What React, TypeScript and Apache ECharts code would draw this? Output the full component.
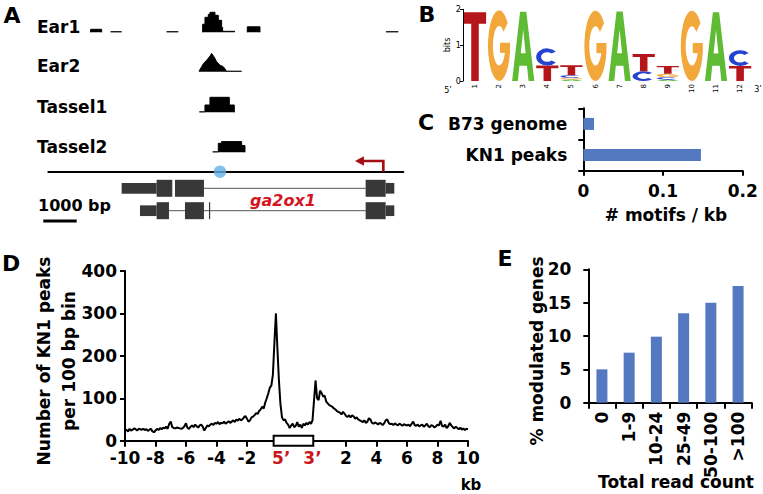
import React, { useEffect, useRef } from "react";
import * as echarts from "echarts";

const FONT = "'DejaVu Sans', 'Liberation Sans', Arial, sans-serif";
const BAR_BLUE = "#5479c1";

// ---------------- Panel A : ChIP-seq tracks at the ga2ox1 locus (kb) ----------------
const trackNames = ["Ear1", "Ear2", "Tassel1", "Tassel2"];
const locusLengthKb = 10.65;
const ear1Coverage = [
  [1.27, 0], [1.27, 3], [1.6, 3], [1.6, 0], [1.7, null],
  [1.87, 0.6], [2.2, 0.6], [2.3, null],
  [3.55, 0.6], [3.9, 0.6], [4.0, null],
  [4.63, 0], [4.63, 8], [4.7, 8], [4.7, 15], [4.8, 15], [4.8, 18], [4.85, 18], [4.85, 20], [5.0, 20],
  [5.0, 17], [5.1, 17], [5.1, 12], [5.2, 12], [5.2, 5], [5.23, 5], [5.23, 1], [5.6, 1], [5.7, null],
  [5.97, 0], [5.97, 5.5], [6.35, 5.5], [6.35, 0], [6.5, null],
  [10.13, 0.6], [10.5, 0.6],
];
const ear2Coverage = [
  [4.53, 0], [4.53, 1], [4.6, 5], [4.65, 8], [4.75, 11.5], [4.85, 15.5], [4.9, 18.3], [4.97, 15],
  [5.05, 10], [5.15, 6.5], [5.25, 5], [5.33, 1.5], [5.33, 0.5], [5.8, 0.5],
];
const tassel1Coverage = [
  [4.53, 0.5], [4.7, 0.5], [4.7, 7.3], [4.85, 7.3], [4.85, 15], [5.43, 15], [5.43, 7.3], [5.58, 7.3], [5.58, 0],
];
const tassel2Coverage = [
  [4.93, 0.5], [5.1, 0.5], [5.1, 9], [5.2, 9], [5.2, 10.7], [5.8, 10.7], [5.8, 6.7], [5.9, 6.7], [5.9, 0],
];
const isoformNames = ["T01", "T02"];
const geneUtr = [[2.2, 3.25, 0], [10.12, 10.38, 0], [2.75, 3.25, 1], [10.12, 10.38, 1]];
const geneCds = [
  [3.25, 3.72, 0], [3.8, 4.67, 0], [9.52, 10.12, 0],
  [3.25, 3.62, 1], [4.1, 4.67, 1], [4.82, 4.85, 1], [9.52, 10.12, 1],
];
const geneIntrons = [[4.67, 9.52, 0], [3.62, 4.1, 1], [4.67, 9.52, 1]];
const motifSiteKb = [5.15];
const tssArrow = [[10.05, 9.2, 10.7]]; // [TSS kb, arrow tip kb, arrow height]

// ---------------- Panel B : motif logo (bits) ----------------
const logoPositions = ["1", "2", "3", "4", "5", "6", "7", "8", "9", "10", "11", "12"];
const bitsA = [0, 0, 1.93, 0, 0.04, 0, 1.94, 0, 0.04, 0, 1.92, 0];
const bitsC = [0, 0, 0, 0.48, 0.07, 0, 0, 0.27, 0.07, 0, 0, 0.44];
const bitsG = [0, 1.97, 0, 0, 0.05, 1.96, 0, 0, 0.09, 1.96, 0, 0];
const bitsT = [1.92, 0, 0, 0.43, 0.28, 0, 0, 0.48, 0.22, 0, 0, 0.42];

// ---------------- Panel C ----------------
const motifSets = ["B73 genome", "KN1 peaks"];
const motifsPerKb = [0.0134, 0.1476];

// ---------------- Panel D : KN1 peaks per 100 bp bin ----------------
const upstreamPeaks = [
  27, 25, 22, 28, 24, 26, 29, 27, 24, 28,
  27, 26, 28, 25, 27, 23, 26, 28, 22, 20,
  24, 28, 25, 30, 27, 31, 29, 33, 28, 40,
  45, 32, 30, 29, 31, 30, 29, 28, 30, 34,
  41, 30, 28, 33, 36, 32, 38, 34, 31, 36,
  38, 33, 24, 30, 36, 34, 38, 40, 37, 42,
  40, 44, 39, 42, 41, 45, 40, 43, 46, 42,
  45, 48, 44, 50, 47, 52, 48, 50, 55, 58,
  52, 45, 48, 55, 57, 60, 65, 63, 70, 74,
  80, 76, 90, 100, 112, 125, 130, 155, 230, 300,
];
const geneBodyPeaks = [
  215, 140, 85, 55, 48, 50, 42, 38, 30, 36,
  40, 32, 35, 44, 33, 38, 30, 40, 36, 42,
  38, 44, 40, 48, 95,
];
const downstreamPeaks = [
  142, 100, 96, 118, 112, 104, 106, 92, 88, 84,
  82, 80, 76, 74, 70, 68, 66, 62, 68, 64,
  58, 56, 60, 55, 60, 57, 52, 55, 50, 48,
  46, 44, 48, 42, 45, 53, 50, 42, 40, 43,
  41, 38, 42, 40, 37, 41, 48, 50, 42, 39,
  40, 37, 41, 38, 36, 40, 38, 35, 39, 37,
  36, 38, 34, 40, 45, 37, 35, 38, 34, 36,
  38, 33, 36, 40, 34, 32, 37, 35, 31, 34,
  38, 36, 47, 35, 33, 38, 30, 34, 42, 36,
  32, 29, 33, 30, 27, 31, 26, 29, 25, 28,
  27,
];
const upstreamTicks = [-10, -8, -6, -4, -2];
const downstreamTicks = [2, 4, 6, 8, 10];
const geneEndLabels = ["5\u2019", "3\u2019"];
const geneBox = [[-0.25, 2.35]];

// ---------------- Panel E ----------------
const readCountBins = ["0", "1-9", "10-24", "25-49", "50-100", ">100"];
const modulatedPct = [5.0, 7.5, 9.9, 13.4, 15.0, 17.5];

// ---------------- letter shapes for the logo (100 x 100 box) ----------------
const LETTER_PATHS: Record<string, string> = {
  T: "M0 0 L100 0 L100 17 L67 17 L67 100 L33 100 L33 17 L0 17 Z",
  A: "M0 100 L36 0 L64 0 L100 100 L74 100 L67 78 L33 78 L26 100 Z M39 60 L61 60 L50 26 Z",
  C: "M88.3 17.9 A50 50 0 1 0 88.3 82.1 L69.8 69.8 A28 28 0 1 1 69.8 30.2 Z",
  G: "M88.3 17.9 A50 50 0 1 0 99.2 58.7 L99.2 46 L54 46 L54 60 L76 60.4 A28 28 0 1 1 69.8 30.2 Z",
};
Object.keys(LETTER_PATHS).forEach((L) => {
  echarts.graphic.registerShape("logo" + L, echarts.graphic.extendPath(LETTER_PATHS[L], {}) as any);
});
const LOGO_COLORS: Record<string, string> = { A: "#5fba34", C: "#2443d1", G: "#f2a73b", T: "#b5161c" };
const LETTERS = ["A", "C", "G", "T"];

const GENE_SPAN = 2.5;
const TRACK_BASELINES = [32.3, 71.7, 112.3, 152.3];

function buildOption(): any {
  const black2 = { show: true, onZero: false, lineStyle: { color: "#000", width: 2 } };
  const tick = (len: number) => ({ show: true, inside: false, length: len, lineStyle: { color: "#000", width: 2 } });
  const lbl = (extra: any = {}) => ({ color: "#000", fontSize: 17, fontWeight: "bold", fontFamily: FONT, ...extra });
  const hidden = { show: false };

  const grids = [
    { left: 462.95, top: 9.3, width: 289.2, height: 71.7 },
    { left: 583.3, top: 108.3, width: 159.4, height: 62.4 },
    { left: 125, top: 271, width: 343, height: 169.7 },
    { left: 588.3, top: 269.3, width: 163.4, height: 133.4 },
    ...TRACK_BASELINES.map((b) => ({ left: 48.3, top: b - 22, width: 355, height: 22 })),
    { left: 48.3, top: 177.1, width: 355, height: 44.8 },
    { left: 48.3, top: 141.7, width: 355, height: 30 },
  ].map((g) => ({ ...g, containLabel: false, outerBoundsMode: "none", show: false }));

  const dTickPos = [...upstreamTicks, ...downstreamTicks.map((k) => k + GENE_SPAN)];
  const endPos = [0.25, GENE_SPAN - 0.2];
  const dLabelPos = [...dTickPos, ...endPos];

  const xAxis: any[] = [
    {
      type: "category", gridIndex: 0, data: logoPositions, boundaryGap: true,
      axisLine: hidden, axisTick: hidden,
      axisLabel: { rotate: 90, fontSize: 7, color: "#000", margin: 3, interval: 0, fontFamily: FONT },
    },
    {
      type: "value", gridIndex: 1, min: 0, max: 0.2, interval: 0.1,
      axisLine: black2, axisTick: tick(5), splitLine: hidden, axisLabel: lbl({ margin: 12 }),
    },
    {
      type: "value", gridIndex: 2, min: -10, max: 10 + GENE_SPAN,
      axisLine: black2,
      axisTick: { ...tick(6), customValues: dTickPos },
      splitLine: hidden,
      axisLabel: lbl({
        margin: 9,
        customValues: dLabelPos,
        formatter: (v: number) => {
          if (Math.abs(v - endPos[0]) < 1e-6) return "{r|" + geneEndLabels[0] + "}";
          if (Math.abs(v - endPos[1]) < 1e-6) return "{r|" + geneEndLabels[1] + "}";
          if (v < 0) return String(v);
          return String(Math.round(v - GENE_SPAN));
        },
        rich: { r: { color: "#c8161c", fontSize: 17, fontWeight: "bold", fontFamily: FONT } },
      }),
    },
    {
      type: "category", gridIndex: 3, data: readCountBins, boundaryGap: true,
      axisLine: black2, axisTick: { ...tick(6), alignWithLabel: false, interval: 0 },
      axisLabel: lbl({ rotate: 90, margin: 9, interval: 0 }),
    },
    ...TRACK_BASELINES.map((_, i) => ({ type: "value", gridIndex: 4 + i, min: 0, max: locusLengthKb, show: false })),
    { type: "value", gridIndex: 8, min: 0, max: locusLengthKb, show: false },
    {
      type: "value", gridIndex: 9, min: 0, max: locusLengthKb,
      axisLine: { show: true, onZero: false, lineStyle: { color: "#000", width: 2 } },
      axisTick: hidden, axisLabel: hidden, splitLine: hidden,
    },
  ];

  const yAxis: any[] = [
    {
      type: "value", gridIndex: 0, min: 0, max: 2, interval: 1,
      axisLine: { show: true, onZero: false, lineStyle: { color: "#000", width: 1 } },
      axisTick: { show: true, length: 3, lineStyle: { color: "#000", width: 1 } },
      axisLabel: { fontSize: 8, color: "#000", margin: 2, fontFamily: FONT },
      splitLine: hidden,
    },
    {
      type: "category", gridIndex: 1, data: motifSets, inverse: true, boundaryGap: true,
      axisLine: black2, axisTick: { ...tick(5), alignWithLabel: false, interval: 0 },
      axisLabel: lbl({ margin: 16 }),
    },
    {
      type: "value", gridIndex: 2, min: 0, max: 400, interval: 100,
      axisLine: black2, axisTick: tick(5), splitLine: hidden, axisLabel: lbl({ margin: 8 }),
    },
    {
      type: "value", gridIndex: 3, min: 0, max: 20, interval: 5,
      axisLine: black2, axisTick: tick(5), splitLine: hidden, axisLabel: lbl({ margin: 17 }),
    },
    ...TRACK_BASELINES.map((_, i) => ({ type: "value", gridIndex: 4 + i, min: 0, max: 22, show: false })),
    { type: "category", gridIndex: 8, data: isoformNames, inverse: true, show: false },
    { type: "value", gridIndex: 9, min: 0, max: 30, show: false },
  ];

  const coverages = [ear1Coverage, ear2Coverage, tassel1Coverage, tassel2Coverage];

  const exonRender = (h: number) => (params: any, api: any) => {
    const a = api.coord([api.value(0), api.value(2)]);
    const b = api.coord([api.value(1), api.value(2)]);
    return {
      type: "rect",
      shape: { x: a[0], y: a[1] - h / 2, width: Math.max(b[0] - a[0], 1.2), height: h },
      style: { fill: "#383838" },
    };
  };

  const series: any[] = [
    // Panel B logo
    {
      type: "custom", xAxisIndex: 0, yAxisIndex: 0, clip: false,
      encode: { x: 0, y: [1, 2, 3, 4] },
      data: logoPositions.map((p, i) => [p, bitsA[i], bitsC[i], bitsG[i], bitsT[i]]),
      renderItem: (params: any, api: any) => {
        const idx = api.value(0);
        const stack = LETTERS.map((L, k) => ({ L, h: Number(api.value(k + 1)) }))
          .filter((d) => d.h > 0)
          .sort((a, b) => a.h - b.h);
        const bw = api.size([1, 0])[0] * 0.92;
        let cum = 0;
        const children = stack.map(({ L, h }) => {
          const bottom = api.coord([idx, cum]);
          const top = api.coord([idx, cum + h]);
          cum += h;
          return {
            type: "logo" + L,
            x: bottom[0] - bw / 2, y: top[1],
            scaleX: bw / 100, scaleY: (bottom[1] - top[1]) / 100,
            style: { fill: LOGO_COLORS[L] },
          };
        });
        return { type: "group", children };
      },
    },
    // Panel C
    {
      type: "bar", xAxisIndex: 1, yAxisIndex: 1, data: motifsPerKb, barWidth: 12,
      itemStyle: { color: BAR_BLUE },
    },
    // Panel D
    {
      type: "line", xAxisIndex: 2, yAxisIndex: 2, showSymbol: false, symbol: "none",
      lineStyle: { color: "#000", width: 2 },
      data: [
        ...upstreamPeaks.map((v, i) => [-10 + i * 0.1, v]),
        ...geneBodyPeaks.map((v, i) => [i * 0.1, v]),
        ...downstreamPeaks.map((v, i) => [GENE_SPAN + i * 0.1, v]),
      ],
      z: 3,
    },
    {
      type: "custom", xAxisIndex: 2, yAxisIndex: 2, clip: false, z: 6,
      encode: { x: [0, 1] },
      data: geneBox,
      renderItem: (params: any, api: any) => {
        const a = api.coord([api.value(0), 0]);
        const b = api.coord([api.value(1), 0]);
        return {
          type: "rect",
          shape: { x: a[0], y: a[1] - 5, width: b[0] - a[0], height: 10 },
          style: { fill: "#fff", stroke: "#000", lineWidth: 2 },
        };
      },
    },
    // Panel E
    {
      type: "bar", xAxisIndex: 3, yAxisIndex: 3, data: modulatedPct, barWidth: 11,
      itemStyle: { color: BAR_BLUE },
    },
    // Panel A coverage tracks
    ...coverages.map((cov, i) => ({
      type: "line", xAxisIndex: 4 + i, yAxisIndex: 4 + i, data: cov,
      showSymbol: false, symbol: "none", connectNulls: false, clip: false,
      lineStyle: { color: "#000", width: 1 },
      areaStyle: { color: "#000", opacity: 1, origin: "start" },
    })),
    // gene model
    {
      type: "custom", xAxisIndex: 8, yAxisIndex: 8, clip: false, encode: { x: [0, 1], y: 2 },
      data: geneIntrons.map(([s, e, k]) => [s, e, isoformNames[k]]),
      renderItem: (params: any, api: any) => {
        const a = api.coord([api.value(0), api.value(2)]);
        const b = api.coord([api.value(1), api.value(2)]);
        return { type: "line", shape: { x1: a[0], y1: a[1], x2: b[0], y2: b[1] }, style: { stroke: "#555", lineWidth: 1 } };
      },
    },
    {
      type: "custom", xAxisIndex: 8, yAxisIndex: 8, clip: false, encode: { x: [0, 1], y: 2 },
      data: geneUtr.map(([s, e, k]) => [s, e, isoformNames[k]]),
      renderItem: exonRender(10.7),
    },
    {
      type: "custom", xAxisIndex: 8, yAxisIndex: 8, clip: false, encode: { x: [0, 1], y: 2 },
      data: geneCds.map(([s, e, k]) => [s, e, isoformNames[k]]),
      renderItem: exonRender(17),
    },
    // locus: motif site and TSS arrow
    {
      type: "scatter", xAxisIndex: 9, yAxisIndex: 9, clip: false, z: 5,
      data: motifSiteKb.map((k) => [k, 0]), symbol: "circle", symbolSize: 12.5,
      itemStyle: { color: "#63b1e6" },
    },
    {
      type: "custom", xAxisIndex: 9, yAxisIndex: 9, clip: false, encode: { x: [0, 1] },
      data: tssArrow,
      renderItem: (params: any, api: any) => {
        const base = api.coord([api.value(0), 0]);
        const corner = api.coord([api.value(0), api.value(2)]);
        const tip = api.coord([api.value(1), api.value(2)]);
        const head = 9;
        return {
          type: "group",
          children: [
            { type: "polyline", shape: { points: [base, corner, [tip[0] + head - 1, tip[1]]] }, style: { stroke: "#a30f12", lineWidth: 2.7, fill: null } },
            { type: "polygon", shape: { points: [[tip[0], tip[1]], [tip[0] + head, tip[1] - 4.7], [tip[0] + head, tip[1] + 4.7]] }, style: { fill: "#a30f12" } },
          ],
        };
      },
    },
  ];

  const txt = (text: string, x: number, y: number, size: number, extra: any = {}, el: any = {}) => ({
    type: "text", x, y, silent: true, ...el,
    style: {
      text, fontSize: size, fontWeight: "bold", fontFamily: FONT, fill: "#000",
      textAlign: "center", textVerticalAlign: "middle", ...extra,
    },
  });

  const graphic = [
    txt("A", 12, 15, 22),
    txt("B", 427, 14, 22),
    txt("C", 426, 122, 22),
    txt("D", 11, 263, 22),
    txt("E", 505, 258, 22),
    ...trackNames.map((n, i) => txt(n, 37, TRACK_BASELINES[i] - 5.3, 17, { textAlign: "left" })),
    txt("1000 bp", 38, 205, 16, { textAlign: "left" }),
    { type: "line", silent: true, shape: { x1: 43.3, y1: 221, x2: 76.7, y2: 221 }, style: { stroke: "#000", lineWidth: 3 } },
    txt("ga2ox1", 283, 200, 16, { fill: "#d6141e", fontStyle: "italic" }),
    txt("bits", 447, 45, 8, { fontWeight: "normal" }, { rotation: Math.PI / 2 }),
    txt("5\u2019", 448, 90, 8, { fontWeight: "normal" }),
    txt("3\u2019", 758, 89, 8, { fontWeight: "normal" }),
    txt("# motifs / kb", 666, 215, 17),
    txt("Number of KN1 peaks\nper 100 bp bin", 56, 361, 17, { lineHeight: 25 }, { rotation: Math.PI / 2 }),
    txt("kb", 471, 485, 15),
    txt("% modulated genes", 537, 351, 17, {}, { rotation: Math.PI / 2 }),
    txt("Total read count", 676, 482, 17),
  ];

  return {
    animation: false,
    backgroundColor: "#fff",
    textStyle: { fontFamily: FONT },
    grid: grids,
    xAxis,
    yAxis,
    series,
    graphic,
  };
}

export default function App() {
  const ref = useRef<HTMLDivElement>(null);
  useEffect(() => {
    if (!ref.current) return;
    const chart = echarts.init(ref.current, null, { renderer: "svg" });
    chart.setOption(buildOption());
    return () => chart.dispose();
  }, []);
  return (
    <div
      ref={ref}
      style={{ position: "fixed", left: 0, top: 0, width: 763, height: 494, background: "#fff" }}
    />
  );
}
